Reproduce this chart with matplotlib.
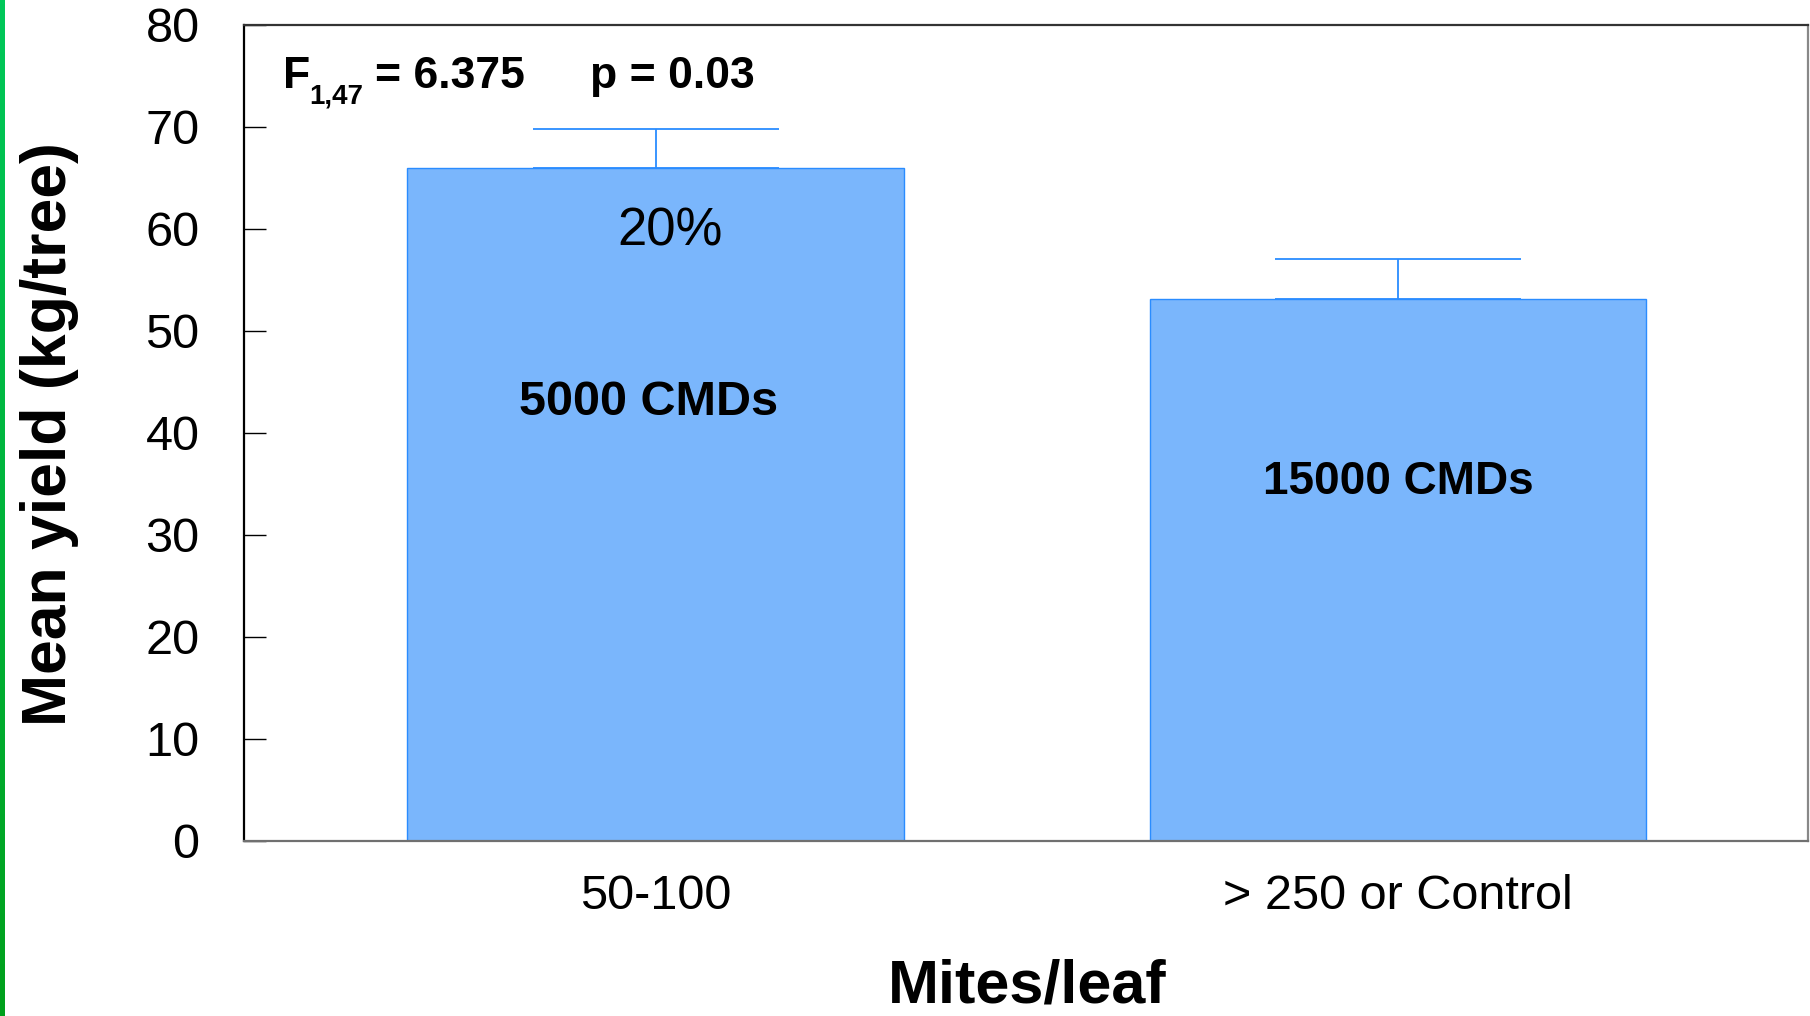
import numpy as np
import matplotlib
matplotlib.use("Agg")
import matplotlib.pyplot as plt
from matplotlib.colors import LinearSegmentedColormap

plt.rcParams['font.family'] = ['Liberation Sans', 'DejaVu Sans']

# ---- data ----
categories = ["50-100", "> 250 or Control"]
mean_yield = [66.0, 53.1]
error_up = [3.8, 4.0]
bar_labels = ["5000 CMDs", "15000 CMDs"]
yticks = [0, 10, 20, 30, 40, 50, 60, 70, 80]

W, H = 1810, 1016
fig = plt.figure(figsize=(W / 100, H / 100), dpi=100)
fig.patch.set_facecolor('white')

# green stripe at the left edge (gradient)
gax = fig.add_axes([0, 0, 5 / W, 1])
grad = np.linspace(0, 1, 256).reshape(-1, 1)
gcm = LinearSegmentedColormap.from_list('g', ['#00c85a', '#00a01c'])
gax.imshow(grad, aspect='auto', cmap=gcm, extent=[0, 1, 0, 1])
gax.axis('off')

left, right, top, bottom = 244, 1808, 25, 841
ax = fig.add_axes([left / W, 1 - bottom / H, (right - left) / W, (bottom - top) / H])

x = np.arange(len(categories))
ax.bar(x, mean_yield, width=0.668, color='#7ab6fc', edgecolor='#2a8cff',
       linewidth=1.0, zorder=2)
ax.errorbar(x, mean_yield, yerr=[np.zeros(len(x)), error_up], fmt='none',
            ecolor='#2a8cff', elinewidth=1.3, capsize=88.5, capthick=1.3, zorder=3)

ax.set_xlim(-0.554, 1.5515)
ax.set_ylim(0, 80)
ax.set_yticks(yticks)
ax.set_yticklabels([str(v) for v in yticks])
ax.set_xticks(x)
ax.set_xticklabels(categories)

ax.tick_params(axis='y', direction='in', length=16, width=1.0, color='black',
               labelsize=35, pad=32)
ax.tick_params(axis='x', length=0, labelsize=35, pad=24)

for side, col in [('left', 'black'), ('top', '#333333'), ('right', '#888888'), ('bottom', '#707070')]:
    ax.spines[side].set_color(col)
    ax.spines[side].set_linewidth(1.6)

# texts inside bars
ax.text(0.02, 59.8, "20%", ha='center', va='center', fontsize=38, zorder=4)
ax.text(-0.009, 43.0, bar_labels[0], ha='center', va='center', fontsize=35,
        fontweight='bold', zorder=4)
ax.text(1.0, 35.2, bar_labels[1], ha='center', va='center', fontsize=33,
        fontweight='bold', zorder=4)

# statistics annotation
fig.text(283 / W, 1 - 88 / H, "F", fontsize=32, fontweight='bold', va='baseline', ha='left')
fig.text(309 / W, 1 - 104 / H, "1,47", fontsize=20, fontweight='bold', va='baseline', ha='left')
fig.text(375 / W, 1 - 88 / H, "= 6.375", fontsize=32, fontweight='bold', va='baseline', ha='left')
fig.text(590 / W, 1 - 88 / H, "p = 0.03", fontsize=32, fontweight='bold', va='baseline', ha='left')

# axis labels
fig.text(50 / W, 1 - 434 / H, "Mean yield (kg/tree)", rotation=90, fontsize=45,
         fontweight='bold', ha='center', va='center')
fig.text(1027 / W, 0.0, "Mites/leaf", fontsize=44, fontweight='bold',
         ha='center', va='bottom')

fig.savefig('out.png', dpi=100, facecolor='white')
